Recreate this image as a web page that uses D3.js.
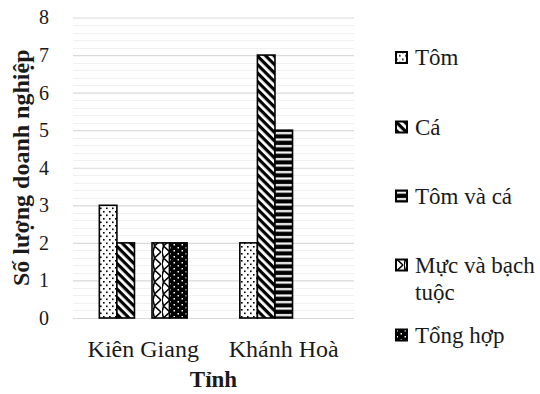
<!DOCTYPE html>
<html>
<head>
<meta charset="utf-8">
<script src="https://cdn.jsdelivr.net/npm/d3@7"></script>
<style>
  html, body { margin: 0; padding: 0; background: #fff; }
  svg { display: block; }
</style>
</head>
<body>
<svg id="chart" width="540" height="394"></svg>
<script>
// Provinces on the x axis
const provinces = ["Kiên Giang", "Khánh Hoà"];
// Business types (series)
const seriesNames = ["Tôm", "Cá", "Tôm và cá", "Mực và bạch tuộc", "Tổng hợp"];
// Number of enterprises per series, one value per province
const tom         = [3, 2];
const ca          = [2, 7];
const tomVaCa     = [0, 5];
const mucBachTuoc = [2, 0];
const tongHop     = [2, 0];
const yTicks = [0, 1, 2, 3, 4, 5, 6, 7, 8];

const seriesValues = [tom, ca, tomVaCa, mucBachTuoc, tongHop];
const patternIds = ["p-dots", "p-diag", "p-horiz", "p-zigzag", "p-solid-dots"];
const FONT = "Liberation Serif";
const INK = "#1a1a1a";

const svg = d3.select("#chart");
const margin = { left: 73, right: 186, top: 17.5, bottom: 76 };
const W = 540, H = 394;

const x0 = d3.scaleBand().domain(provinces)
  .range([margin.left, W - margin.right]).padding(0);
const x1 = d3.scaleBand().domain(seriesNames)
  .range([0, x0.bandwidth()]).paddingInner(0).paddingOuter(1.5);
const y = d3.scaleLinear().domain([0, 8]).range([H - margin.bottom, margin.top]);

// ---- fill patterns ----
const defs = svg.append("defs");

// sparse black dots on white
const pDots = defs.append("pattern").attr("id", "p-dots")
  .attr("patternUnits", "userSpaceOnUse").attr("width", 6).attr("height", 7);
pDots.append("rect").attr("width", 6).attr("height", 7).attr("fill", "#fff");
pDots.append("rect").attr("x", 1).attr("y", 1).attr("width", 1.6).attr("height", 1.6).attr("fill", "#000");
pDots.append("rect").attr("x", 4).attr("y", 4.5).attr("width", 1.6).attr("height", 1.6).attr("fill", "#000");

// wide downward diagonal stripes
const pDiag = defs.append("pattern").attr("id", "p-diag")
  .attr("patternUnits", "userSpaceOnUse").attr("width", 6).attr("height", 6)
  .attr("patternTransform", "rotate(45)");
pDiag.append("rect").attr("width", 6).attr("height", 6).attr("fill", "#fff");
pDiag.append("rect").attr("width", 6).attr("height", 3.2).attr("fill", "#000");

// horizontal stripes
const pHoriz = defs.append("pattern").attr("id", "p-horiz")
  .attr("patternUnits", "userSpaceOnUse").attr("width", 8).attr("height", 6.5);
pHoriz.append("rect").attr("width", 8).attr("height", 6.5).attr("fill", "#000");
pHoriz.append("rect").attr("y", 2).attr("width", 8).attr("height", 2.2).attr("fill", "#fff");

// zig-zag lattice
const pZig = defs.append("pattern").attr("id", "p-zigzag")
  .attr("patternUnits", "userSpaceOnUse").attr("width", 9).attr("height", 12);
pZig.append("rect").attr("width", 9).attr("height", 12).attr("fill", "#fff");
pZig.append("path").attr("d", "M8,0 L1.5,6 L8,12 M0,0 L1.5,6 L0,12")
  .attr("fill", "none").attr("stroke", "#000").attr("stroke-width", 1.6);

// black with white dots
const pSolid = defs.append("pattern").attr("id", "p-solid-dots")
  .attr("patternUnits", "userSpaceOnUse").attr("width", 8).attr("height", 6);
pSolid.append("rect").attr("width", 8).attr("height", 6).attr("fill", "#000");
pSolid.append("rect").attr("x", 1.5).attr("y", 1).attr("width", 1.5).attr("height", 1.5).attr("fill", "#fff");
pSolid.append("rect").attr("x", 5.5).attr("y", 4).attr("width", 1.5).attr("height", 1.5).attr("fill", "#fff");

// ---- gridlines ----
const minorTicks = d3.range(0, 8.0001, 0.2).filter(v => Math.abs(v - Math.round(v)) > 1e-6);
svg.append("g").selectAll("line").data(minorTicks).join("line")
  .attr("x1", margin.left).attr("x2", W - margin.right)
  .attr("y1", d => Math.round(y(d)) + 0.5).attr("y2", d => Math.round(y(d)) + 0.5)
  .attr("stroke", "#f0f0f0").attr("stroke-width", 1);

const yAxis = d3.axisLeft(y).tickValues(yTicks)
  .tickSize(-(W - margin.right - margin.left)).tickFormat(d3.format("d"));
const gy = svg.append("g").attr("transform", `translate(${margin.left},0)`).call(yAxis)
  .attr("font-family", FONT);
gy.select(".domain").remove();
gy.selectAll(".tick line").attr("stroke", "#d9d9d9").attr("stroke-width", 1.2);
gy.selectAll(".tick text").attr("x", -24).attr("font-size", 20)
  .attr("font-family", FONT).attr("fill", INK);

// ---- bars ----
const barData = [];
provinces.forEach((p, i) => {
  seriesNames.forEach((s, j) => {
    barData.push({ province: p, series: s, value: seriesValues[j][i], pat: patternIds[j] });
  });
});

svg.append("g").selectAll("rect").data(barData.filter(d => d.value > 0)).join("rect")
  .attr("x", d => x0(d.province) + x1(d.series))
  .attr("y", d => y(d.value))
  .attr("width", x1.bandwidth())
  .attr("height", d => y(0) - y(d.value))
  .attr("fill", d => `url(#${d.pat})`)
  .attr("stroke", "#000").attr("stroke-width", 1.6);

// ---- category axis ----
const xAxis = d3.axisBottom(x0).tickSize(0);
const gx = svg.append("g").attr("transform", `translate(0,${y(0)})`).call(xAxis)
  .attr("font-family", FONT);
gx.select(".domain").remove();
gx.selectAll(".tick text").attr("y", 0).attr("dy", 0).attr("transform", "translate(0,39)")
  .attr("font-size", 24).attr("font-family", FONT).attr("fill", INK);

// ---- axis titles ----
svg.append("text")
  .attr("x", (margin.left + W - margin.right) / 2).attr("y", 387)
  .attr("text-anchor", "middle").attr("font-size", 23).attr("font-weight", "bold")
  .attr("font-family", FONT).attr("fill", INK).text("Tỉnh");

svg.append("text")
  .attr("transform", `translate(29,${(y(0) + y(8)) / 2}) rotate(-90)`)
  .attr("text-anchor", "middle").attr("font-size", 24).attr("font-weight", "bold")
  .attr("font-family", FONT).attr("fill", INK).text("Số lượng doanh nghiệp");

// ---- legend ----
const legendY = [57.5, 127, 196, 265, 335];
const legend = svg.append("g");
seriesNames.forEach((s, j) => {
  const g = legend.append("g").attr("transform", `translate(395,${legendY[j]})`);
  g.append("rect").attr("x", 1).attr("y", -5.5).attr("width", 11).attr("height", 11)
    .attr("fill", `url(#${patternIds[j]})`).attr("stroke", "#000").attr("stroke-width", 2);
  const t = g.append("text").attr("x", 20).attr("y", 7.5)
    .attr("font-size", 23).attr("font-family", FONT).attr("fill", INK);
  if (s === "Mực và bạch tuộc") {
    t.append("tspan").attr("x", 20).text("Mực và bạch");
    t.append("tspan").attr("x", 20).attr("dy", 27).text("tuộc");
  } else {
    t.text(s);
  }
});
</script>
</body>
</html>
